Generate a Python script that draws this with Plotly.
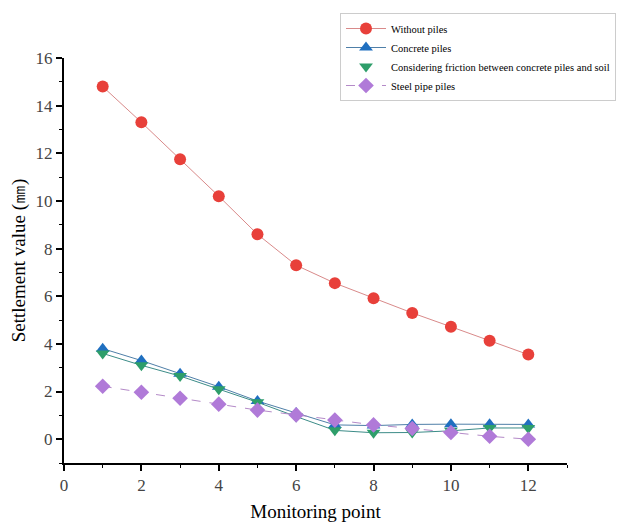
import plotly.graph_objects as go

points = [1, 2, 3, 4, 5, 6, 7, 8, 9, 10, 11, 12]
without_piles = [14.8, 13.3, 11.75, 10.2, 8.6, 7.3, 6.55, 5.92, 5.3, 4.72, 4.13, 3.55]
concrete_piles = [3.8, 3.3, 2.75, 2.2, 1.6, 1.1, 0.6, 0.57, 0.62, 0.63, 0.63, 0.62]
friction_piles = [3.6, 3.1, 2.65, 2.1, 1.55, 0.95, 0.37, 0.27, 0.28, 0.35, 0.47, 0.47]
steel_piles = [2.22, 1.97, 1.72, 1.47, 1.22, 1.02, 0.8, 0.6, 0.45, 0.28, 0.12, 0.0]

names = ["Without piles", "Concrete piles",
         "Considering friction between concrete piles and soil", "Steel pipe piles"]

fig = go.Figure()
fig.add_trace(go.Scatter(x=points, y=without_piles, name=names[0], mode="lines+markers",
                         line=dict(color="#d98a8a", width=1),
                         marker=dict(symbol="circle", size=12, color="#e8403a")))
fig.add_trace(go.Scatter(x=points, y=concrete_piles, name=names[1], mode="lines+markers",
                         line=dict(color="#4f7fa8", width=1),
                         marker=dict(symbol="triangle-up", size=12, color="#1f6fc0")))
fig.add_trace(go.Scatter(x=points, y=friction_piles, name=names[2], mode="lines+markers",
                         line=dict(color="#3c8c88", width=1), showlegend=False,
                         marker=dict(symbol="triangle-down", size=12, color="#2e9e6a")))
fig.add_trace(go.Scatter(x=[None], y=[None], name=names[2], mode="markers",
                         marker=dict(symbol="triangle-down", size=12, color="#2e9e6a")))
fig.add_trace(go.Scatter(x=points, y=steel_piles, name=names[3], mode="lines+markers",
                         line=dict(color="#b48ac8", width=1, dash="dash"),
                         marker=dict(symbol="diamond", size=12, color="#b07ad8")))

axis_common = dict(showline=True, linecolor="black", linewidth=2, showgrid=False,
                   zeroline=False, ticks="outside", ticklen=6, tickwidth=1.5,
                   tickcolor="black", tickfont=dict(family="Liberation Serif", size=17, color="#444"),
                   minor=dict(ticks="outside", ticklen=3, tickwidth=1, tickcolor="black", dtick=1))

fig.update_xaxes(range=[0, 13], dtick=2, tick0=0,
                 title=dict(text="Monitoring point", font=dict(family="Liberation Serif", size=19, color="black"),
                            standoff=10),
                 **axis_common)
fig.update_yaxes(range=[-1, 16], dtick=2, tick0=0,
                 title=dict(text="Settlement value (㎜)", font=dict(family="Liberation Serif", size=19, color="black"),
                            standoff=5),
                 **axis_common)

fig.update_layout(
    width=619, height=522,
    margin=dict(l=64, r=52, t=58, b=59, autoexpand=False),
    plot_bgcolor="white", paper_bgcolor="white",
    font=dict(family="Liberation Serif", color="black"),
    legend=dict(x=(340 - 64) / 503, y=1 + (58 - 13) / 405, xanchor="left", yanchor="top",
                bordercolor="#cccccc", borderwidth=1, bgcolor="white",
                font=dict(family="Liberation Serif", size=10.5, color="black"),
                itemwidth=40),
    showlegend=True,
)

fig.write_html("out.html")
